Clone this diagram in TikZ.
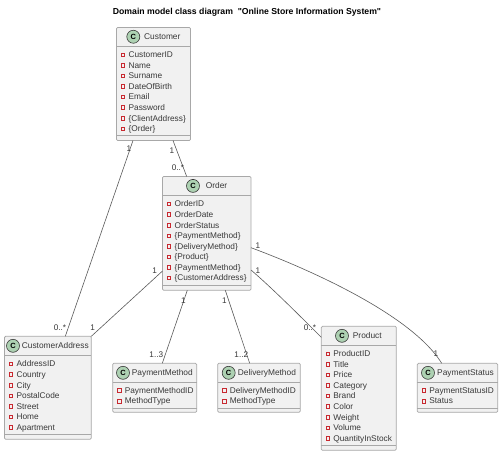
\documentclass[tikz,border=0pt]{standalone}
\usepackage{fontspec}
\setmainfont{Liberation Sans}
\newfontfamily\titlefont{Liberation Sans}
\definecolor{boxfill}{HTML}{F1F1F1}
\definecolor{boxline}{HTML}{A8A8A8}
\definecolor{connline}{HTML}{5A5A5A}
\definecolor{txtcol}{HTML}{383838}
\definecolor{circfill}{HTML}{ADD1B2}
\definecolor{markred}{HTML}{C82930}
\tikzset{
  x=1pt,y=-1pt,
  classbox/.style={draw=boxline,fill=boxfill,line width=.75pt,rounded corners=1.2pt,inner sep=0pt,outer sep=0pt,anchor=north west},
  sepline/.style={draw=boxline,line width=.75pt},
  rowtext/.style={font=\fontsize{8.3}{10}\selectfont,text=txtcol,anchor=west,inner sep=0pt,text height=6pt,text depth=1.6pt},
  titletext/.style={font=\fontsize{8.35}{10}\selectfont,text=txtcol,anchor=west,inner sep=0pt,text height=6.2pt,text depth=1.6pt},
  badge/.style={circle,draw=txtcol,fill=circfill,line width=.6pt,minimum size=13pt,inner sep=0pt,font=\fontsize{7.5}{8}\selectfont\bfseries,text=black},
  privmark/.style={draw=markred,fill=boxfill,line width=.7pt,minimum size=3.6pt,inner sep=0pt},
  conn/.style={draw=connline,line width=.6pt},
  mult/.style={font=\fontsize{8.2}{10}\selectfont,text=txtcol,inner sep=0pt},
}
% #1 name, #2 x1, #3 y1, #4 x2, #5 y2, #6 header y, #7 divider y, #8 title,
% #9 circle x, then title x, first row y, rows
\newcommand{\umlclass}[9]{%
  \def\cname{#1}\def\cxa{#2}\def\cya{#3}\def\cxb{#4}\def\cyb{#5}\def\chead{#6}\def\cdiv{#7}\def\ctitle{#8}\def\ccx{#9}%
  \umlclassb}
\newcommand{\umlclassb}[3]{%
  \pgfmathsetmacro{\cw}{\cxb-\cxa}\pgfmathsetmacro{\ch}{\cyb-\cya}%
  \node[classbox,minimum width=\cw pt,minimum height=\ch pt] (\cname) at (\cxa,\cya) {};
  \draw[sepline] (\cxa,\chead) -- (\cxb,\chead);
  \draw[sepline] (\cxa,\cdiv) -- (\cxb,\cdiv);
  \pgfmathsetmacro{\ccy}{(\cya+\chead)/2}%
  \node[badge] (\cname-badge) at (\ccx,\ccy) {C};
  \pgfmathsetmacro{\tty}{\ccy+.5}%
  \node[titletext] (\cname-title) at (#1,\tty) {\ctitle};
  \foreach \txt [count=\i from 0] in {#3} {
    \pgfmathsetmacro{\ry}{#2+\i*10.57}
    \pgfmathsetmacro{\rty}{\ry+.7}
    \pgfmathsetmacro{\sx}{\cxa+6.4}
    \pgfmathsetmacro{\tx}{\cxa+11.9}
    \node[privmark] (\cname-mark\i) at (\sx,\ry) {};
    \node[rowtext] (\cname-row\i) at (\tx,\rty) {\txt};
  }
}
\begin{document}
\begin{tikzpicture}
\useasboundingbox (0,0) rectangle (501,453);
\fill[white] (0,0) rectangle (501,453);
\node[font=\titlefont\fontsize{8.68}{10}\selectfont\bfseries,text=black,inner sep=0pt] (title) at (247,12) {Domain model class diagram\ \ "Online Store Information System"};

\umlclass{customer}{116.5}{27.5}{190.5}{140.5}{46}{135.5}{Customer}{133.3}{144}{54.7}{CustomerID,Name,Surname,DateOfBirth,Email,Password,\{ClientAddress\},\{Order\}}
\umlclass{order}{162.5}{176.5}{251}{290.3}{195.3}{285.3}{Order}{193}{205.7}{204}{OrderID,OrderDate,OrderStatus,\{PaymentMethod\},\{DeliveryMethod\},\{Product\},\{PaymentMethod\},\{CustomerAddress\}}
\umlclass{address}{4.5}{336.3}{91.3}{439.3}{355.3}{434.3}{CustomerAddress}{13}{21.7}{364}{AddressID,Country,City,PostalCode,Street,Home,Apartment}
\umlclass{payment}{112.7}{363.3}{196.7}{412.3}{382.3}{408.3}{PaymentMethod}{123}{131.7}{390.5}{PaymentMethodID,MethodType}
\umlclass{delivery}{217.7}{363.3}{300.3}{412.3}{382.3}{408.3}{DeliveryMethod}{228.7}{237.7}{390.5}{DeliveryMethodID,MethodType}
\umlclass{product}{321.3}{326.3}{396.3}{450.3}{345.3}{445.3}{Product}{342}{352.7}{353.7}{ProductID,Title,Price,Category,Brand,Color,Weight,Volume,QuantityInStock}
\umlclass{status}{417.3}{363.3}{497.7}{412.3}{382.3}{408.3}{PaymentStatus}{428}{437}{390.5}{PaymentStatusID,Status}

\draw[conn] ([xshift=16.5pt]customer.south west) -- ([xshift=60.8pt]address.north west);
\draw[conn] ([xshift=56.5pt]customer.south west) -- ([xshift=24.2pt]order.north west);
\draw[conn] ([yshift=19.3pt]order.south west) -- (address.north east);
\draw[conn] ([xshift=24.8pt]order.south west) -- ([xshift=49.6pt]payment.north west);
\draw[conn] ([xshift=62.8pt]order.south west) -- ([xshift=32pt]delivery.north west);
\draw[conn] ([yshift=20.3pt]order.south east) .. controls (272,288) and (300,316) .. ([yshift=-11pt]product.north west);
\draw[conn] ([yshift=42.6pt]order.south east) .. controls (298,265) and (410,312) .. ([xshift=24.4pt]status.north west);

\node[mult] (m1) at (129,148.5) {1};
\node[mult] (m2) at (60,327.5) {0..*};
\node[mult] (m3) at (172,151) {1};
\node[mult] (m4) at (178,167.5) {0..*};
\node[mult] (m5) at (154.7,270.5) {1};
\node[mult] (m6) at (92.7,327.5) {1};
\node[mult] (m7) at (183.3,300.5) {1};
\node[mult] (m8) at (156.3,354.5) {1..3};
\node[mult] (m9) at (224.3,300.5) {1};
\node[mult] (m10) at (241.3,354.5) {1..2};
\node[mult] (m11) at (258,270.5) {1};
\node[mult] (m12) at (310,327.5) {0..*};
\node[mult] (m13) at (258,245.5) {1};
\node[mult] (m14) at (436,353.5) {1};
\end{tikzpicture}
\end{document}
